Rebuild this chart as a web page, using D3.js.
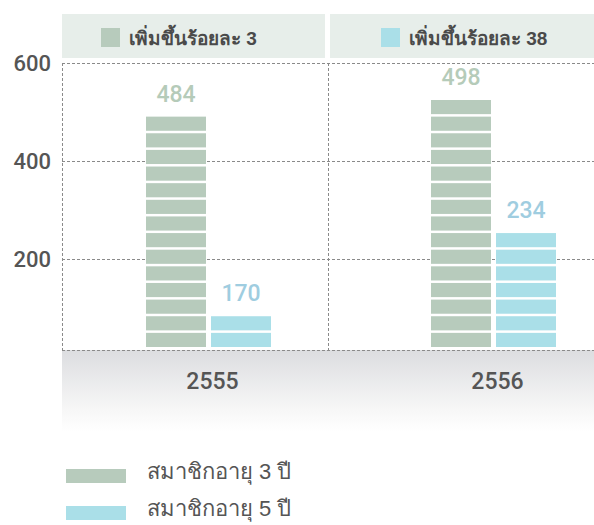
<!DOCTYPE html>
<html>
<head>
<meta charset="utf-8">
<script src="https://cdn.jsdelivr.net/npm/d3@7"></script>
<style>
  body { margin: 0; background: #fff; }
  text { font-family: "Liberation Sans", Arial, "Noto Sans", sans-serif; }
  .num { font-family: Roboto, "Liberation Sans", sans-serif; font-weight: 500; }
</style>
</head>
<body>
<script>
// canvas size
var w = 594;
var h = 525;

// data
var years = ["2555", "2556"];
var seriesNames = ["สมาชิกอายุ 3 ปี", "สมาชิกอายุ 5 ปี"];
var members3 = [484, 498];
var members5 = [170, 234];
var blocks3 = [14, 15];   // stacked bricks drawn per bar
var blocks5 = [2, 7];
var growth = ["เพิ่มขึ้นร้อยละ 3", "เพิ่มขึ้นร้อยละ 38"];
var yTicks = [200, 400, 600];

var colors = ["#b7cbbc", "#aadfe8"];
var labelColors = ["#b5cbb9", "#9fcde0"];

var svg = d3.select("body")
  .append("svg")
  .attr("width", w)
  .attr("height", h);

var plotLeft = 62, plotRight = 594, plotTop = 63, baseY = 350;

// axis scale for the grid
var y = d3.scaleLinear().domain([0, 600]).range([357, plotTop]);
// block scale for the bricks
var yb = d3.scaleLinear().domain([0, 15]).range([347, 97.5]);
var x = d3.scalePoint().domain(years).range([208.5, 493.5]);

var barW = 60, barGap = 5, brickGap = 2.5;

// header bands
var headers = [[62, 325], [330, 594]];
svg.selectAll(".hdr")
  .data(headers)
  .enter()
  .append("rect")
  .attr("x", function(d) { return d[0]; })
  .attr("y", 14)
  .attr("width", function(d) { return d[1] - d[0]; })
  .attr("height", 44)
  .style("fill", "#e7eeea");

var hdrKeyX = [101, 381];
svg.selectAll(".hdrKey")
  .data(growth)
  .enter()
  .append("rect")
  .attr("x", function(d, i) { return hdrKeyX[i]; })
  .attr("y", 28)
  .attr("width", 19)
  .attr("height", 19)
  .style("fill", function(d, i) { return colors[i]; });

svg.selectAll(".hdrText")
  .data(growth)
  .enter()
  .append("text")
  .attr("x", function(d, i) { return hdrKeyX[i] + 28; })
  .attr("y", 45)
  .style("font-size", "19px")
  .style("font-weight", "bold")
  .style("fill", "#4a4a4a")
  .text(function(d) { return d; });

// grey floor under the baseline
var defs = svg.append("defs");
var grad = defs.append("linearGradient")
  .attr("id", "floor")
  .attr("x1", 0).attr("y1", 0).attr("x2", 0).attr("y2", 1);
grad.append("stop").attr("offset", "0%").attr("stop-color", "#dcdde0");
grad.append("stop").attr("offset", "70%").attr("stop-color", "#f6f6f6");
grad.append("stop").attr("offset", "100%").attr("stop-color", "#ffffff");

svg.append("rect")
  .attr("x", plotLeft)
  .attr("y", baseY)
  .attr("width", plotRight - plotLeft)
  .attr("height", 82)
  .style("fill", "url(#floor)");

// grid
svg.selectAll(".grid")
  .data(yTicks)
  .enter()
  .append("line")
  .attr("x1", plotLeft)
  .attr("x2", plotRight)
  .attr("y1", function(d) { return Math.round(y(d)) + 0.5; })
  .attr("y2", function(d) { return Math.round(y(d)) + 0.5; })
  .style("stroke", "#8a8a8a")
  .style("stroke-dasharray", "3,2");

svg.append("line")
  .attr("x1", plotLeft).attr("x2", plotRight)
  .attr("y1", baseY + 0.5).attr("y2", baseY + 0.5)
  .style("stroke", "#8a8a8a")
  .style("stroke-dasharray", "3,2");

[62, 328].forEach(function(xx) {
  svg.append("line")
    .attr("x1", xx + 0.5).attr("x2", xx + 0.5)
    .attr("y1", plotTop).attr("y2", baseY)
    .style("stroke", "#8a8a8a")
    .style("stroke-dasharray", "3,2");
});

svg.selectAll(".ytick")
  .data(yTicks)
  .enter()
  .append("text")
  .attr("class", "num")
  .attr("x", 51)
  .attr("y", function(d) { return y(d) + 8; })
  .attr("text-anchor", "end")
  .style("font-size", "22px")
  .style("fill", "#555")
  .text(function(d) { return d; });

// bars built from bricks
var series = [
  { vals: members3, blocks: blocks3 },
  { vals: members5, blocks: blocks5 }
];

series.forEach(function(s, si) {
  years.forEach(function(yr, yi) {
    var x0 = x(yr) - (barW + barGap / 2) + si * (barW + barGap);
    var bricks = d3.range(s.blocks[yi]);
    svg.selectAll(".b" + si + yi)
      .data(bricks)
      .enter()
      .append("rect")
      .attr("x", x0)
      .attr("y", function(d) { return yb(d + 1) + brickGap; })
      .attr("width", barW)
      .attr("height", function(d) { return yb(d) - yb(d + 1) - brickGap; })
      .style("fill", colors[si]);

    svg.append("text")
      .attr("class", "num")
      .attr("x", x0 + barW / 2)
      .attr("y", yb(s.blocks[yi]) + brickGap - 15)
      .attr("text-anchor", "middle")
      .style("font-size", "23px")
      .style("fill", labelColors[si])
      .text(s.vals[yi]);
  });
});

// category labels
svg.selectAll(".cat")
  .data(years)
  .enter()
  .append("text")
  .attr("class", "num")
  .attr("x", function(d) { return x(d) + 4; })
  .attr("y", 389)
  .attr("text-anchor", "middle")
  .style("font-size", "23px")
  .style("fill", "#555")
  .text(function(d) { return d; });

// legend
var legY = [469, 506];
svg.selectAll(".legKey")
  .data(seriesNames)
  .enter()
  .append("rect")
  .attr("x", 66)
  .attr("y", function(d, i) { return legY[i]; })
  .attr("width", 60)
  .attr("height", 14)
  .style("fill", function(d, i) { return colors[i]; });

svg.selectAll(".legText")
  .data(seriesNames)
  .enter()
  .append("text")
  .attr("x", 147)
  .attr("y", function(d, i) { return legY[i] + 10; })
  .style("font-size", "22px")
  .style("fill", "#555")
  .text(function(d) { return d; });
</script>
</body>
</html>
